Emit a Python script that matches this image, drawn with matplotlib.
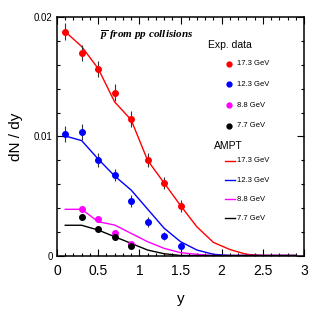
import matplotlib
matplotlib.use("Agg")
import matplotlib.pyplot as plt
from matplotlib.ticker import MultipleLocator

plt.rcParams['font.family'] = ['Liberation Sans', 'DejaVu Sans']
plt.rcParams['mathtext.fontset'] = 'custom'
plt.rcParams['mathtext.it'] = 'Liberation Serif:italic:bold'
plt.rcParams['mathtext.rm'] = 'Liberation Serif:italic:bold'

# experimental data
y_exp = [0.1, 0.3, 0.5, 0.7, 0.9, 1.1, 1.3, 1.5]
red_pts = [0.0188, 0.0170, 0.01567, 0.01368, 0.01147, 0.00803, 0.00612, 0.00416]
red_err = [0.0007, 0.0007, 0.0007, 0.0007, 0.0007, 0.0006, 0.0005, 0.0005]
blue_pts = [0.0102, 0.01038, 0.0080, 0.00674, 0.00458, 0.00282, 0.00164, 0.0008]
blue_err = [0.0007, 0.0007, 0.0006, 0.0005, 0.0005, 0.0004, 0.0003, 0.0003]
y_low = [0.3, 0.5, 0.7, 0.9]
mag_pts = [0.00393, 0.00304, 0.00186, 0.00097]
mag_err = [0.0002, 0.0002, 0.0002, 0.0002]
blk_pts = [0.00326, 0.0022, 0.00153, 0.0008]
blk_err = [0.0002, 0.0002, 0.0002, 0.0002]

# AMPT curves
y_ampt = [0.1, 0.3, 0.5, 0.7, 0.9, 1.1, 1.3, 1.5, 1.7, 1.9, 2.1, 2.3, 2.5, 2.7, 2.9]
red_ampt = [0.0188, 0.01755, 0.0157, 0.0129, 0.0114, 0.0080, 0.0061, 0.0042,
            0.0024, 0.0011, 0.0005, 0.0001, 0.0, 0.0, 0.0]
blue_ampt = [0.01004, 0.00965, 0.0081, 0.00668, 0.0055, 0.0039, 0.0023, 0.00116,
             0.00046, 0.0001, 0.0, 0.0, 0.0, 0.0, 0.0]
mag_ampt = [0.00388, 0.00388, 0.00284, 0.00256, 0.00186, 0.00116, 0.0006, 0.00024,
            0.0001, 0.0, 0.0, 0.0, 0.0, 0.0, 0.0]
blk_ampt = [0.00254, 0.00254, 0.00214, 0.00158, 0.00102, 0.00046, 0.00015, 0.0,
            0.0, 0.0, 0.0, 0.0, 0.0, 0.0, 0.0]

energies = ['17.3 GeV', '12.3 GeV', '8.8 GeV', '7.7 GeV']
colors = ['#ff0000', '#0000ff', '#ff00ff', '#000000']

fig = plt.figure(figsize=(3.32, 3.22), dpi=100)
ax = fig.add_axes([0.1717, 0.2065, 0.744, 0.7395])

for yv, c in zip([red_ampt, blue_ampt, mag_ampt, blk_ampt], colors):
    ax.plot(y_ampt, yv, color=c, lw=1.0)

for xs, pts, err, c in [(y_exp, red_pts, red_err, colors[0]),
                        (y_exp, blue_pts, blue_err, colors[1]),
                        (y_low, mag_pts, mag_err, colors[2]),
                        (y_low, blk_pts, blk_err, colors[3])]:
    ax.errorbar(xs, pts, yerr=err, fmt='o', color=c, ms=4, mec=c,
                ecolor='#333333', elinewidth=0.8, capsize=0)

ax.set_xlim(0, 3)
ax.set_ylim(0, 0.02)
ax.xaxis.set_major_locator(MultipleLocator(0.5))
ax.xaxis.set_minor_locator(MultipleLocator(0.1))
ax.yaxis.set_major_locator(MultipleLocator(0.01))
ax.yaxis.set_minor_locator(MultipleLocator(0.002))
ax.set_xticks([0, 0.5, 1, 1.5, 2, 2.5, 3])
ax.set_xticklabels(['0', '0.5', '1', '1.5', '2', '2.5', '3'])
ax.set_yticks([0, 0.01, 0.02])
ax.set_yticklabels(['0', '0.01', '0.02'])
ax.tick_params(which='both', direction='in', top=True, right=True, width=0.8)
ax.tick_params(which='major', length=5)
ax.tick_params(which='minor', length=2.5)
ax.tick_params(axis='x', labelsize=10, pad=6)
ax.tick_params(axis='y', labelsize=7, pad=3)
for s in ax.spines.values():
    s.set_linewidth(1.1)

ax.set_xlabel('y', fontsize=11, labelpad=10)
ax.set_ylabel('dN / dy', fontsize=11, labelpad=8)

ax.text(0.175, 0.925, r'$\overline{p}\ from\ pp\ collisions$', transform=ax.transAxes,
        fontsize=8, ha='left', va='center')

# legend drawn by hand in axes coordinates
ax.text(0.61, 0.883, 'Exp. data', transform=ax.transAxes, fontsize=7.5,
        ha='left', va='center')
for i, (lab, c) in enumerate(zip(energies, colors)):
    yy = 0.805 - i * 0.0865
    ax.plot([0.698], [yy], 'o', color=c, ms=3.5, transform=ax.transAxes, clip_on=False)
    ax.text(0.728, yy, lab, transform=ax.transAxes, fontsize=5.5, ha='left', va='center')

ax.text(0.637, 0.459, 'AMPT', transform=ax.transAxes, fontsize=7.5,
        ha='left', va='center')
for i, (lab, c) in enumerate(zip(energies, colors)):
    yy = 0.397 - i * 0.080
    ax.plot([0.68, 0.72], [yy, yy], '-', color=c, lw=1.0, transform=ax.transAxes)
    ax.text(0.728, yy, lab, transform=ax.transAxes, fontsize=5.5, ha='left', va='center')

fig.savefig('out.png', dpi=100)
